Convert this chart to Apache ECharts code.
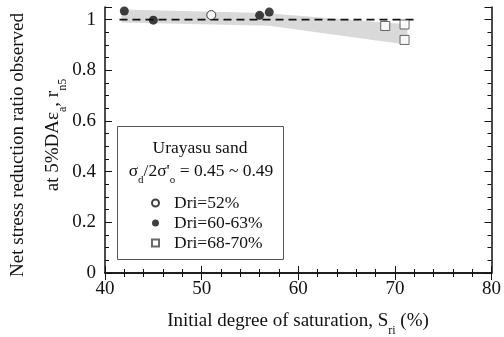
<!DOCTYPE html>
<html>
<head>
<meta charset="utf-8">
<script src="https://cdn.jsdelivr.net/npm/echarts@6/dist/echarts.min.js"></script>
<style>
  html, body { margin: 0; padding: 0; background: #fff; }
  #chart { width: 504px; height: 337px; }
</style>
</head>
<body>
<div id="chart"></div>
<script>
// values
var dri52 = [[51, 1.018]];
var dri60 = [[42, 1.034], [45, 0.998], [56, 1.017], [57, 1.030]];
var dri68 = [[69, 0.975], [71, 0.981], [71, 0.920]];
var refLine = [[41.5, 1], [72, 1]];
// shaded band outline (upper edge left->right, then lower edge right->left)
var bandUpper = [[41.7, 1.040], [56.5, 1.026], [71.3, 0.982]];
var bandLower = [[71.3, 0.901], [57, 0.976], [41.7, 0.989]];

var font = 'Liberation Serif';
var ink = '#111';

var chart = echarts.init(document.getElementById('chart'));

var xBase = {
  type: 'value', min: 40, max: 80, interval: 10,
  axisLine: { lineStyle: { color: ink, width: 1.5 } },
  axisTick: { inside: true, length: 7, lineStyle: { color: ink } },
  minorTick: { show: true, splitNumber: 5, length: 4, lineStyle: { color: ink } },
  splitLine: { show: false }
};
var yBase = {
  type: 'value', min: 0, max: 1.05, interval: 0.2,
  axisLine: { lineStyle: { color: ink, width: 1.5 } },
  axisTick: { inside: true, length: 7, lineStyle: { color: ink } },
  minorTick: { show: true, splitNumber: 4, length: 4, lineStyle: { color: ink } },
  splitLine: { show: false }
};

chart.setOption({
  animation: false,
  grid: { left: 105, right: 7, top: 7, bottom: 64 },
  xAxis: [
    Object.assign({}, xBase, {
      position: 'bottom',
      axisLabel: { fontFamily: font, fontSize: 19, color: ink, margin: 7 }
    }),
    Object.assign({}, xBase, { position: 'top', axisLabel: { show: false } })
  ],
  yAxis: [
    Object.assign({}, yBase, {
      position: 'left',
      axisLabel: {
        fontFamily: font, fontSize: 19, color: ink, margin: 9,
        showMaxLabel: false,
        formatter: function (v) { return v > 1.01 ? '' : String(Math.round(v * 10) / 10); }
      }
    }),
    Object.assign({}, yBase, { position: 'right', axisLabel: { show: false } })
  ],
  legend: {
    orient: 'vertical',
    left: 146, top: 189,
    itemGap: 2,
    itemWidth: 7, itemHeight: 7,
    textStyle: { fontFamily: font, fontSize: 17.5, color: ink, padding: [0, 0, 0, 10] },
    data: ['Dri=52%', 'Dri=60-63%', 'Dri=68-70%']
  },
  series: [
    {
      type: 'custom',
      silent: true,
      z: 1,
      data: [0],
      renderItem: function (params, api) {
        var pts = bandUpper.concat(bandLower).map(function (p) { return api.coord(p); });
        return { type: 'polygon', shape: { points: pts }, style: { fill: '#d9d9d9' } };
      }
    },
    {
      type: 'line',
      data: refLine,
      symbol: 'none',
      z: 2,
      lineStyle: { color: ink, width: 1.8, type: [8, 5] }
    },
    {
      name: 'Dri=52%', type: 'scatter', data: dri52, symbol: 'circle', symbolSize: 9, z: 3,
      itemStyle: { color: '#fff', borderColor: ink, borderWidth: 1 }
    },
    {
      name: 'Dri=60-63%', type: 'scatter', data: dri60, symbol: 'circle', symbolSize: 9, z: 3,
      itemStyle: { color: ink }
    },
    {
      name: 'Dri=68-70%', type: 'scatter', data: dri68, symbol: 'rect', symbolSize: 9, z: 3,
      itemStyle: { color: '#fff', borderColor: '#444', borderWidth: 1 }
    }
  ],
  graphic: [
    {
      type: 'rect', shape: { x: 117.5, y: 126.5, width: 166, height: 133 },
      style: { fill: '#fff', stroke: '#555', lineWidth: 1 }, z: 0
    },
    {
      type: 'text', x: 200, y: 148,
      style: { text: 'Urayasu sand', fontFamily: font, fontSize: 17.5, fill: ink, align: 'center', verticalAlign: 'middle' }
    },
    {
      type: 'text', x: 201, y: 171,
      style: {
        text: 'σ{sub|d}/2σ\'{sub|o} = 0.45 ~ 0.49',
        fontFamily: font, fontSize: 17.5, fill: ink, align: 'center', verticalAlign: 'middle',
        rich: { sub: { fontFamily: font, fontSize: 11, fill: ink, verticalAlign: 'bottom', lineHeight: 30 } }
      }
    },
    {
      type: 'text', x: 298, y: 321,
      style: {
        text: 'Initial degree of saturation, S{sub|ri} (%)',
        fontFamily: font, fontSize: 19, fill: ink, align: 'center', verticalAlign: 'middle',
        rich: { sub: { fontFamily: font, fontSize: 12, fill: ink, verticalAlign: 'bottom', lineHeight: 32 } }
      }
    },
    {
      type: 'text', x: 18, y: 145, rotation: Math.PI / 2,
      style: {
        text: 'Net stress reduction ratio observed',
        fontFamily: font, fontSize: 19, fill: ink, align: 'center', verticalAlign: 'middle'
      }
    },
    {
      type: 'text', x: 53, y: 135, rotation: Math.PI / 2,
      style: {
        text: 'at 5%DAε{sub|a}, r{sub|n5}',
        fontFamily: font, fontSize: 19, fill: ink, align: 'center', verticalAlign: 'middle',
        rich: { sub: { fontFamily: font, fontSize: 12, fill: ink, verticalAlign: 'bottom', lineHeight: 32 } }
      }
    }
  ]
});
</script>
</body>
</html>
